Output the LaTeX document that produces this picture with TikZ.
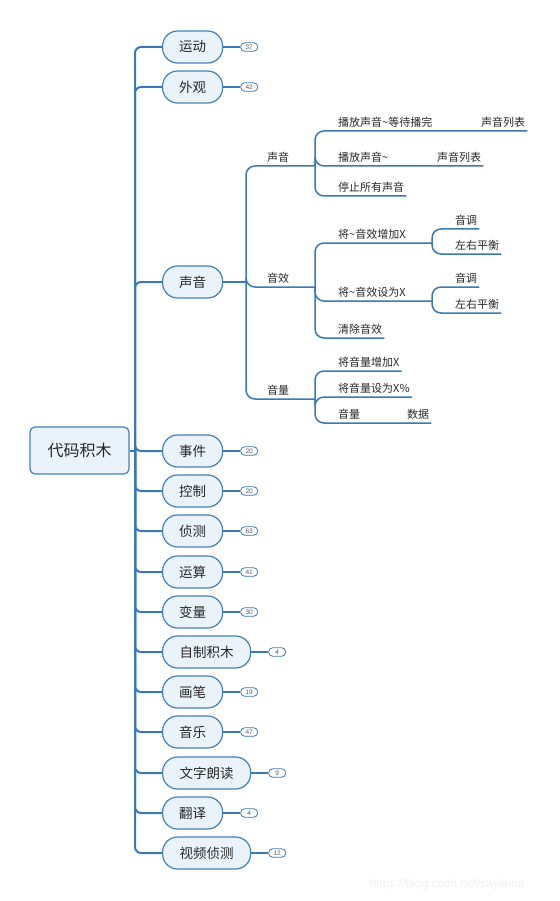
\documentclass[tikz,border=0pt]{standalone}
\usepackage{fontspec}
\setmainfont{Noto Sans CJK SC}
\newfontfamily\latinsf{Liberation Sans}
\usetikzlibrary{positioning}
\definecolor{linec}{RGB}{58,121,182}
\definecolor{nodeline}{RGB}{70,128,186}
\definecolor{nodefill}{RGB}{234,242,250}
\definecolor{textc}{RGB}{40,40,40}

\begin{document}
\begin{tikzpicture}[
    x=1pt, y=-1pt,
    font=\fontsize{11}{12}\selectfont, text=textc,
    root/.style={draw=nodeline, fill=nodefill, rounded corners=5pt, line width=1.2pt,
                 minimum width=99pt, minimum height=47pt, font=\fontsize{16}{18}\selectfont},
    cat/.style={draw=nodeline, fill=nodefill, rounded corners=15pt, line width=1.2pt,
                minimum width=60pt, minimum height=32pt, anchor=west,
                font=\fontsize{13.5}{15}\selectfont},
    wide/.style={cat, minimum width=88pt},
    count/.style={draw=linec, fill=white, rounded corners=4pt, line width=0.8pt,
                  minimum width=17pt, minimum height=8.5pt, inner sep=0pt,
                  text=gray!70!black, font=\latinsf\fontsize{6.5}{6.5}\selectfont},
    lbl/.style={anchor=south west, inner xsep=2pt, inner ysep=3pt},
    trunk/.style={linec, line width=2pt, rounded corners=6pt},
    tie/.style={linec, line width=1.5pt},
    br/.style={linec, line width=1.5pt, rounded corners=9pt},
]
\useasboundingbox (0,0) rectangle (559,901);

% --- root and the spine that carries every category ---------------------------
\node[root] (root) at (79.5,450.5) {代码积木};
\coordinate (spine) at (135,450.5);
\draw[trunk] (root.east) -- (spine);

% --- categories with their block counts ----------------------------------------
\foreach \n/\y/\t/\c/\s in {yd/47/运动/37/cat, wg/87/外观/42/cat, sj/451/事件/20/cat,
    kz/491/控制/20/cat, zc/531/侦测/63/cat, ys/572/运算/41/cat, bl/612/变量/30/cat,
    zz/652/自制积木/4/wide, hb/692/画笔/19/cat, yy/732/音乐/47/cat,
    wz/773/文字朗读/9/wide, fy/813/翻译/4/cat, sp/853/视频侦测/12/wide} {
  \node[\s] (\n) at (162,\y) {\t};
  \node[count] (\n-n) at ([xshift=26pt]\n.east) {\c};
  \draw[tie] (\n.east) -- (\n-n.west);
  \draw[trunk] (spine) |- (\n.west);
}
\node[cat] (sy) at (162,282) {声音};
\draw[trunk] (spine) |- (sy.west);

% --- sound: second level --------------------------------------------------------
\coordinate (hA) at (246,282);
\draw[tie] (sy.east) -- (hA);
\node[lbl] (sSy) at (265,166) {声音};
\node[lbl] (sXy) at (265,287) {音效};
\node[lbl] (sYl) at (265,399) {音量};
\coordinate (hB1) at (315,166);
\coordinate (hB2) at (315,287);
\coordinate (hB3) at (315,399);
\draw[br] (hA) |- (sSy.south west) -- (hB1);
\draw[br] (hA) |- (sXy.south west) -- (hB2);
\draw[br] (hA) |- (sYl.south west) -- (hB3);

% --- sound / 声音 ----------------------------------------------------------------
\node[lbl] (t1) at (336,131) {播放声音\textasciitilde 等待播完};
\node[lbl] (u1) at (479,131) {声音列表};
\node[lbl] (t2) at (336,166) {播放声音\textasciitilde};
\node[lbl] (u2) at (435,166) {声音列表};
\node[lbl] (t3) at (336,196) {停止所有声音};
\draw[br] (hB1) |- (t1.south west) -- (u1.south east);
\draw[br] (hB1) |- (t2.south west) -- (u2.south east);
\draw[br] (hB1) |- (t3.south west) -- (t3.south east);

% --- sound / 音效 ----------------------------------------------------------------
\node[lbl] (t4) at (336,243) {将\textasciitilde 音效增加X};
\node[lbl] (t5) at (336,301) {将\textasciitilde 音效设为X};
\node[lbl] (t6) at (336,338) {清除音效};
\coordinate (hC1) at (432,243);
\coordinate (hC2) at (432,301);
\draw[br] (hB2) |- (t4.south west) -- (hC1);
\draw[br] (hB2) |- (t5.south west) -- (hC2);
\draw[br] (hB2) |- (t6.south west) -- (t6.south east);
\node[lbl] (u3) at (453,229) {音调};
\node[lbl] (u4) at (453,254) {左右平衡};
\node[lbl] (u5) at (453,287) {音调};
\node[lbl] (u6) at (453,313) {左右平衡};
\draw[br] (hC1) |- (u3.south west) -- (u3.south east);
\draw[br] (hC1) |- (u4.south west) -- (u4.south east);
\draw[br] (hC2) |- (u5.south west) -- (u5.south east);
\draw[br] (hC2) |- (u6.south west) -- (u6.south east);

% --- sound / 音量 ----------------------------------------------------------------
\node[lbl] (t7) at (336,371) {将音量增加X};
\node[lbl] (t8) at (336,397) {将音量设为X\%};
\node[lbl] (t9) at (336,423) {音量};
\node[lbl] (u7) at (405,423) {数据};
\draw[br] (hB3) |- (t7.south west) -- (t7.south east);
\draw[br] (hB3) |- (t8.south west) -- (t8.south east);
\draw[br] (hB3) |- (t9.south west) -- (u7.south east);

% --- watermark -------------------------------------------------------------------
\node[text=gray!12, font=\latinsf\fontsize{12}{12}\selectfont] (wm) at (447,884)
    {https://blog.csdn.net/sayiaina};

\end{tikzpicture}
\end{document}
